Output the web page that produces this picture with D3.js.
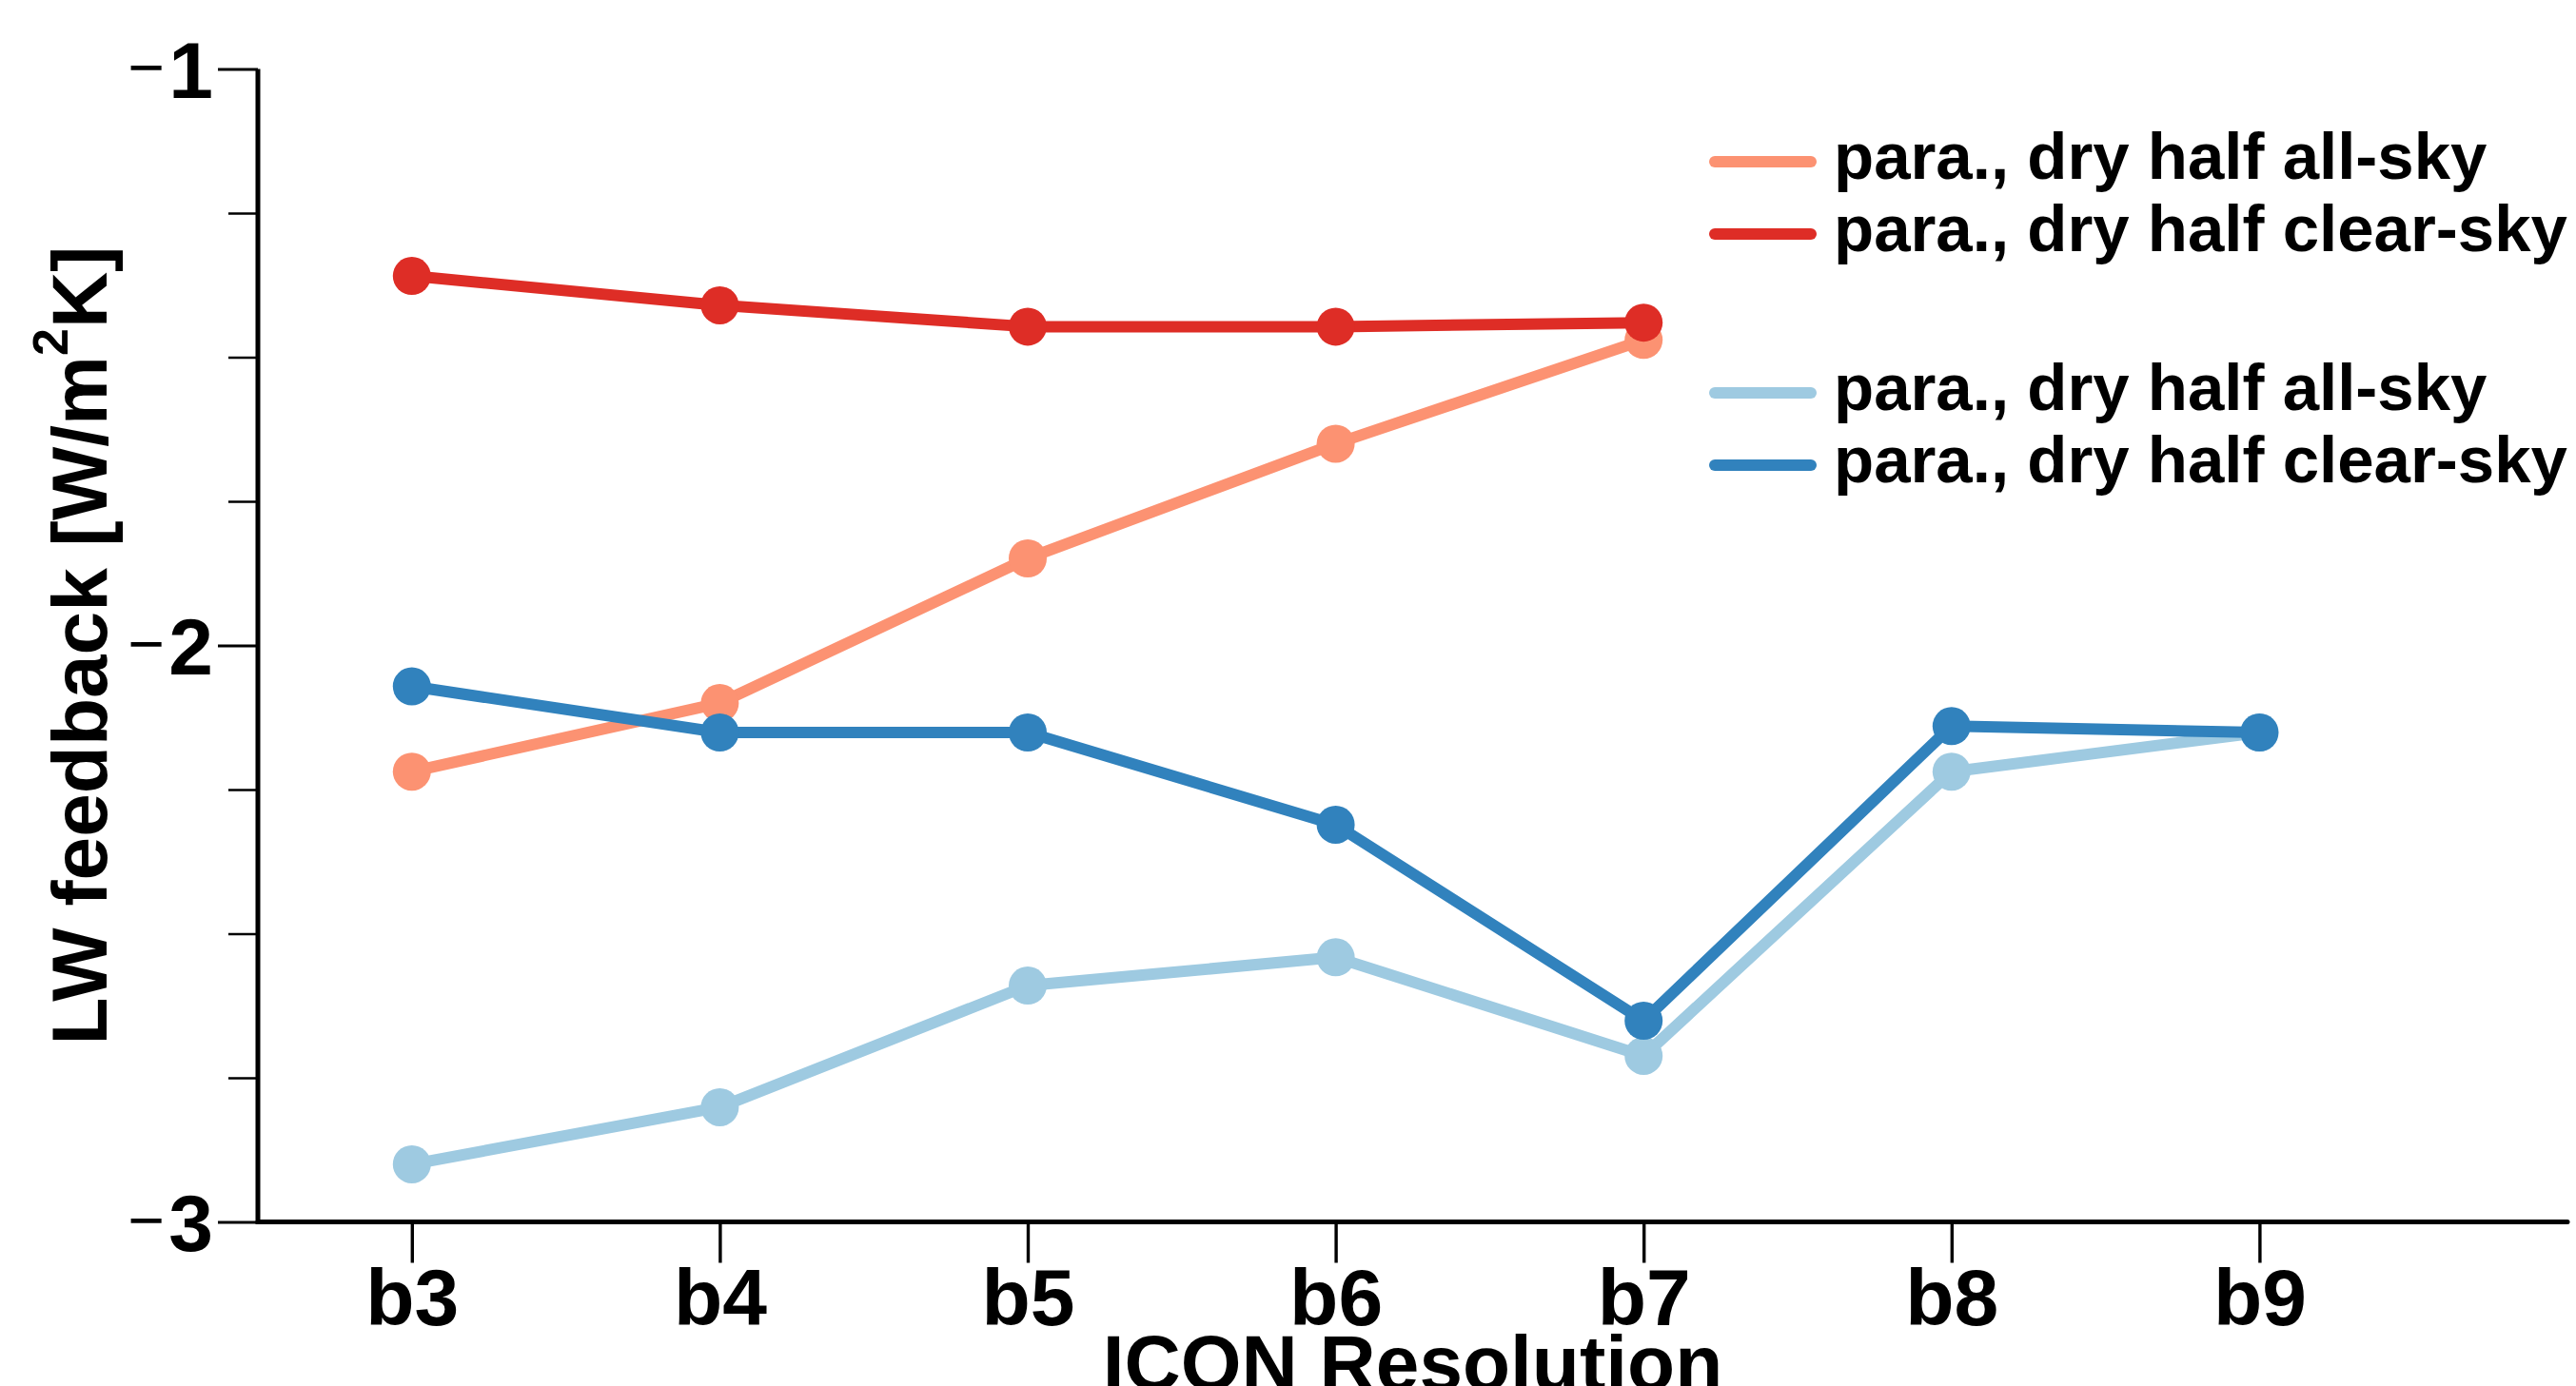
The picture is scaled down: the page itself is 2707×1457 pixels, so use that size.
<!DOCTYPE html>
<html>
<head>
<meta charset="utf-8">
<script src="https://cdn.jsdelivr.net/npm/d3@7"></script>
<style>
  html, body { margin: 0; padding: 0; background: #fff; }
  svg { display: block; }
  text { font-family: "Liberation Sans", Arial, Helvetica, sans-serif; }
</style>
</head>
<body>
<svg id="chart" width="2707" height="1457"></svg>
<script>
// ---- data ----
const categories = ["b3", "b4", "b5", "b6", "b7", "b8", "b9"];
const redAllSky   = [-2.219, -2.100, -1.849, -1.650, -1.470];
const redClearSky = [-1.359, -1.410, -1.447, -1.447, -1.440];
const blueAllSky   = [-2.900, -2.801, -2.590, -2.541, -2.712, -2.219, -2.151];
const blueClearSky = [-2.071, -2.151, -2.151, -2.311, -2.651, -2.140, -2.151];
const yMajorTicks = [-1, -2, -3];
const yMinorTicks = [-1.25, -1.5, -1.75, -2.25, -2.5, -2.75];
const legendLabels = ["para., dry half all-sky", "para., dry half clear-sky",
                      "para., dry half all-sky", "para., dry half clear-sky"];

const series = [
  { name: legendLabels[0], values: redAllSky,    color: "#fc9272" },
  { name: legendLabels[1], values: redClearSky,  color: "#de2d26" },
  { name: legendLabels[2], values: blueAllSky,   color: "#9ecae1" },
  { name: legendLabels[3], values: blueClearSky, color: "#3182bd" }
];

// ---- layout ----
const mLeft = 271, mRight = 2698, mTop = 72.5, mBottom = 1284.5;
const svg = d3.select("#chart");

const x = d3.scaleLinear().domain([-0.5, 7]).range([mLeft, mRight]);
const y = d3.scaleLinear().domain([-3, -1]).range([mBottom, mTop]);

// ---- axes ----
const yAxisMinor = d3.axisLeft(y).tickValues(yMinorTicks).tickSize(31).tickFormat("");
const gMinor = svg.append("g").attr("transform", `translate(${mLeft},0)`).call(yAxisMinor);
gMinor.select(".domain").remove();
gMinor.selectAll(".tick line").attr("stroke", "#000").attr("stroke-width", 2.5);

const yAxis = d3.axisLeft(y).tickValues(yMajorTicks).tickSize(42).tickFormat("");
const gY = svg.append("g").attr("transform", `translate(${mLeft},0)`).call(yAxis);
gY.select(".domain").remove();
gY.selectAll(".tick line").attr("stroke", "#000").attr("stroke-width", 3.2);
gY.selectAll(".tick").each(function(d) {
  const g = d3.select(this);
  g.append("text")
    .attr("x", -47).attr("y", 0).attr("dy", "0.36em")
    .attr("text-anchor", "end")
    .attr("font-size", 84).attr("font-weight", "bold").attr("fill", "#000")
    .attr("font-family", "'Liberation Sans', Arial, sans-serif")
    .text(Math.abs(d));
  g.append("text")
    .attr("x", -98).attr("y", 0).attr("dy", "0.31em")
    .attr("text-anchor", "end")
    .attr("font-size", 66).attr("font-weight", "normal").attr("fill", "#000")
    .attr("font-family", "'Liberation Sans', Arial, sans-serif")
    .text("\u2212");
});

const xAxis = d3.axisBottom(x).tickValues(d3.range(categories.length)).tickSize(43)
  .tickFormat(i => categories[i]);
const gX = svg.append("g").attr("transform", `translate(0,${mBottom})`).call(xAxis);
gX.select(".domain").remove();
gX.selectAll(".tick line").attr("stroke", "#000").attr("stroke-width", 3.4);
gX.selectAll(".tick text")
  .attr("y", 108).attr("dy", 0)
  .attr("font-size", 84).attr("font-weight", "bold").attr("fill", "#000")
  .attr("font-family", "'Liberation Sans', Arial, sans-serif");

// axis spines
svg.append("line").attr("x1", mLeft).attr("x2", mLeft).attr("y1", y(-1)).attr("y2", y(-3) + 2.5)
  .attr("stroke", "#000").attr("stroke-width", 5);
svg.append("line").attr("x1", mLeft).attr("x2", mRight).attr("y1", y(-3)).attr("y2", y(-3))
  .attr("stroke", "#000").attr("stroke-width", 5).attr("stroke-linecap", "round");

// ---- series ----
const line = d3.line().x((d, i) => x(i)).y(d => y(d));
series.forEach(s => {
  svg.append("path").datum(s.values)
    .attr("d", line)
    .attr("fill", "none").attr("stroke", s.color).attr("stroke-width", 12)
    .attr("stroke-linejoin", "round");
  svg.append("g").selectAll("circle").data(s.values).join("circle")
    .attr("cx", (d, i) => x(i)).attr("cy", d => y(d)).attr("r", 20)
    .attr("fill", s.color);
});

// ---- legend ----
const legendY = [170, 246, 413, 489];
const lg = svg.append("g");
series.forEach((s, i) => {
  lg.append("line").attr("x1", 1802).attr("x2", 1903)
    .attr("y1", legendY[i]).attr("y2", legendY[i])
    .attr("stroke", s.color).attr("stroke-width", 12).attr("stroke-linecap", "round");
  lg.append("text").attr("x", 1927).attr("y", legendY[i] + 18)
    .attr("font-size", 69).attr("font-weight", "bold").attr("fill", "#000")
    .text(s.name);
});

// ---- axis titles ----
const yl = svg.append("text")
  .attr("transform", `translate(112,${(mTop + mBottom) / 2}) rotate(-90)`)
  .attr("text-anchor", "middle")
  .attr("font-size", 82).attr("font-weight", "bold").attr("fill", "#000");
yl.append("tspan").text("LW feedback [W/m");
yl.append("tspan").attr("font-size", 52).attr("dy", -41).text("2");
yl.append("tspan").attr("dy", 41).text("K]");

svg.append("text")
  .attr("x", (mLeft + mRight) / 2).attr("y", 1461)
  .attr("text-anchor", "middle")
  .attr("font-size", 82).attr("font-weight", "bold").attr("fill", "#000")
  .text("ICON Resolution");
</script>
</body>
</html>
